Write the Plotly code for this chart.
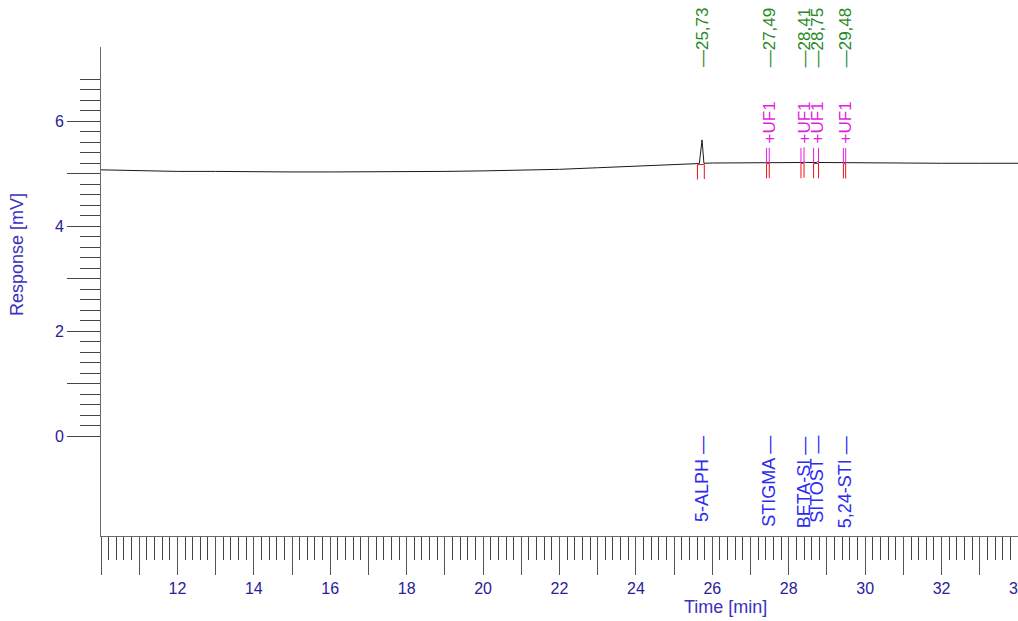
import numpy as np
import plotly.graph_objects as go

# ---------------- data ----------------
# chromatogram trace (time in min, response in mV)
trace_time = [10.0, 11.0, 12.0, 13.0, 14.0, 15.0, 16.0, 17.0, 18.0, 19.0, 20.0, 21.0,
              22.0, 23.0, 24.0, 25.0, 25.6, 25.66, 25.73, 25.78, 26.0, 27.0, 27.49,
              28.0, 28.38, 28.41, 28.44, 28.72, 28.75, 28.78, 29.48, 30.0, 31.0,
              32.0, 33.0, 34.0, 34.6]
trace_resp = [5.07, 5.05, 5.04, 5.04, 5.03, 5.03, 5.03, 5.03, 5.03, 5.04, 5.05, 5.06,
              5.08, 5.11, 5.14, 5.17, 5.185, 5.19, 5.64, 5.195, 5.2, 5.205, 5.21,
              5.21, 5.21, 5.225, 5.21, 5.21, 5.225, 5.21, 5.205, 5.2, 5.2,
              5.195, 5.195, 5.195, 5.195]

# integrated peaks
peak_rt = [25.73, 27.49, 28.41, 28.75, 29.48]
peak_start = [25.61, 27.42, 28.32, 28.65, 29.43]
peak_end = [25.79, 27.49, 28.40, 28.78, 29.49]
peak_names = ["5-ALPH", "STIGMA", "BETA-SI", "SITOST", "5,24-STI"]
peak_flags = ["", "+UF1", "+UF1", "+UF1", "+UF1"]

# axis ticks
x_major_vals = list(range(10, 35))
x_major_text = [str(v) if (v % 2 == 0 and v != 10) else "" for v in x_major_vals]
y_major_vals = [0, 1, 2, 3, 4, 5, 6]
y_major_text = ["0", "", "2", "", "4", "", "6"]

# ---------------- styling ----------------
FONT = "Liberation Sans, Arial, sans-serif"
TICK_BLUE = "#2a2198"
TITLE_BLUE = "#3a32c0"
GREEN = "#1f8a1f"
MAGENTA = "#e21de2"
BLUE = "#2b2bf2"
RED = "#ee1111"

x_minor_vals = [round(v, 1) for v in np.arange(10.0, 34.41, 0.2) if abs(v - round(v)) > 1e-6]
y_minor_vals = [round(v, 1) for v in np.arange(0.0, 6.81, 0.2) if abs(v - round(v)) > 1e-6]

# figure slightly wider than the window: the chart continues past the right edge
W, H = 1040, 621
ML, MR, MT, MB = 101, 0, 47, 85
PW, PH = W - ML - MR, H - MT - MB
PX_PER_MIN = 917 / 24.0
X_END = 10 + PW / PX_PER_MIN


def px_to_paper(sx, sy):
    return (sx - ML) / PW, (H - MB - sy) / PH


fig = go.Figure()
fig.add_trace(go.Scatter(x=trace_time, y=trace_resp, mode="lines",
                         line=dict(color="#1a1a1a", width=1), hoverinfo="skip",
                         showlegend=False))

shapes = []
annotations = []
for rt, s, e, name, flag in zip(peak_rt, peak_start, peak_end, peak_names, peak_flags):
    bs = float(np.interp(s, trace_time, trace_resp))
    be = float(np.interp(e, trace_time, trace_resp))
    # baseline segment under peak
    shapes.append(dict(type="line", xref="x", yref="y", x0=s, x1=e, y0=bs - 0.02, y1=be - 0.02,
                       line=dict(color=RED, width=1)))
    for xv, b in ((s, bs), (e, be)):
        shapes.append(dict(type="line", xref="x", yref="y", x0=xv, x1=xv, y0=b - 0.02, y1=b - 0.3,
                           line=dict(color=RED, width=1)))
        if flag:
            shapes.append(dict(type="line", xref="x", yref="y", x0=xv, x1=xv, y0=b - 0.02, y1=b + 0.28,
                               line=dict(color=MAGENTA, width=1)))
    # retention time label (top)
    annotations.append(dict(x=rt, y=0.957, xref="x", yref="paper", text="—" + f"{rt:.2f}".replace(".", ","),
                            textangle=-90, showarrow=False, xanchor="center", yanchor="bottom",
                            font=dict(family=FONT, size=17, color=GREEN), borderpad=0))
    # flag label
    if flag:
        annotations.append(dict(x=rt, y=5.56, xref="x", yref="y", text=flag, textangle=-90,
                                showarrow=False, xanchor="center", yanchor="bottom",
                                font=dict(family=FONT, size=17, color=MAGENTA), borderpad=0))
    # compound name (bottom)
    annotations.append(dict(x=rt, y=0.02, xref="x", yref="y", text=name + " —", textangle=-90,
                            showarrow=False, xanchor="center", yanchor="top",
                            font=dict(family=FONT, size=18, color=BLUE), borderpad=0))

# axis titles
tx, ty = px_to_paper(725, 607)
annotations.append(dict(x=tx, y=ty, xref="paper", yref="paper", text="Time [min]", showarrow=False,
                        xanchor="center", yanchor="middle",
                        font=dict(family=FONT, size=18, color=TITLE_BLUE)))
rx, ry = px_to_paper(17, 255)
annotations.append(dict(x=rx, y=ry, xref="paper", yref="paper", text="Response [mV]", showarrow=False,
                        xanchor="center", yanchor="middle",
                        textangle=-90, font=dict(family=FONT, size=18, color=TITLE_BLUE)))

fig.update_layout(
    width=W, height=H,
    margin=dict(l=ML, r=MR, t=MT, b=MB, pad=0),
    paper_bgcolor="white", plot_bgcolor="white",
    font=dict(family=FONT, size=16, color=TICK_BLUE),
    shapes=shapes, annotations=annotations,
    xaxis=dict(range=[10, X_END], showgrid=False, zeroline=False, showline=True, linecolor="#6a6a6a",
               linewidth=1, ticks="outside", ticklen=38, tickcolor="#555555", tickwidth=1,
               tickmode="array", tickvals=x_major_vals, ticktext=x_major_text,
               tickfont=dict(family=FONT, size=16, color=TICK_BLUE), automargin=False,
               minor=dict(tickmode="array", tickvals=x_minor_vals, ticks="outside", ticklen=23,
                          tickcolor="#444444", tickwidth=1, showgrid=False)),
    yaxis=dict(range=[-1.905, 7.41], showgrid=False, zeroline=False, showline=True, linecolor="#6a6a6a",
               linewidth=1, ticks="outside", ticklen=33, tickcolor="#444444", tickwidth=1,
               tickmode="array", tickvals=y_major_vals, ticktext=y_major_text,
               tickfont=dict(family=FONT, size=16, color=TICK_BLUE), automargin=False,
               minor=dict(tickmode="array", tickvals=y_minor_vals, ticks="outside", ticklen=20,
                          tickcolor="#444444", tickwidth=1, showgrid=False)),
)

fig.write_html(
    "out.html",
    config={"displayModeBar": False},
    post_script=("document.body.style.margin='0';"
                 "document.body.style.overflow='hidden';"
                 "document.documentElement.style.overflow='hidden';"),
)
